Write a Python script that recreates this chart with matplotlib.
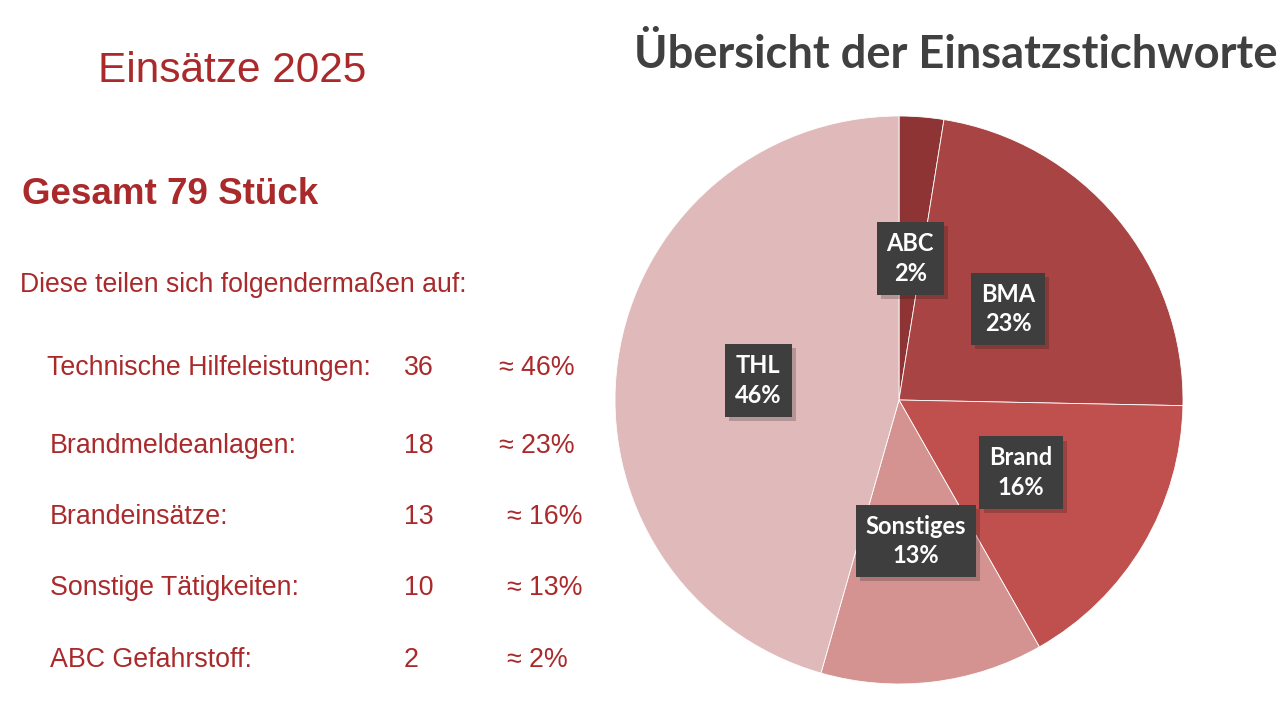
import matplotlib.pyplot as plt
import matplotlib.patheffects as pe

# Daten
kategorien = ["Technische Hilfeleistungen:", "Brandmeldeanlagen:", "Brandeinsätze:",
              "Sonstige Tätigkeiten:", "ABC Gefahrstoff:"]
anzahl_liste = [36, 18, 13, 10, 2]
prozent_liste = ["≈ 46%", "≈ 23%", "≈ 16%", "≈ 13%", "≈ 2%"]

# Kreisdiagramm (im Uhrzeigersinn ab 12 Uhr)
pie_labels = ["ABC", "BMA", "Brand", "Sonstiges", "THL"]
pie_werte = [2, 18, 13, 10, 36]
pie_prozent = [2, 23, 16, 13, 46]
pie_farben = ["#8e3434", "#a84443", "#c0504d", "#d49391", "#e0baba"]

rot = "#aa2a2c"

fig = plt.figure(figsize=(12.8, 7.2), dpi=100)
fig.patch.set_facecolor("white")

# linke Textseite
fig.text(98 / 1280, 1 - 71 / 720, "Einsätze 2025", fontsize=30.5, color=rot,
         family="Liberation Sans", va="center", ha="left")
fig.text(22 / 1280, 1 - 195 / 720, "Gesamt 79 Stück", fontsize=26.5, color=rot,
         family="Liberation Sans", weight="bold", va="center", ha="left")
fig.text(20 / 1280, 1 - 285 / 720, "Diese teilen sich folgendermaßen auf:", fontsize=19.2,
         color=rot, family="Liberation Sans", va="center", ha="left")

zeilen_y = [368, 446, 517, 588, 660]
label_x = [47, 50, 50, 50, 50]
pct_x = [499, 499, 507, 507, 507]
for i in range(len(kategorien)):
    y = 1 - zeilen_y[i] / 720
    fig.text(label_x[i] / 1280, y, kategorien[i], fontsize=19.3, color=rot,
             family="Liberation Sans", va="center", ha="left")
    fig.text(404 / 1280, y, str(anzahl_liste[i]), fontsize=19.3, color=rot,
             family="Liberation Sans", va="center", ha="left")
    fig.text(pct_x[i] / 1280, y, prozent_liste[i], fontsize=19.3, color=rot,
             family="Liberation Sans", va="center", ha="left")

# Titel rechts
fig.text(956 / 1280, 1 - 55 / 720, "Übersicht der Einsatzstichworte", fontsize=32.6,
         color="#404040", family="Lato", weight="bold", va="center", ha="center")

ax = fig.add_axes([615 / 1280, 36 / 720, 568 / 1280, 568 / 720])
texte = [f"{l}\n{p}%" for l, p in zip(pie_labels, pie_prozent)]
wedges, labels = ax.pie(pie_werte, colors=pie_farben, startangle=90, counterclock=False,
                        labels=texte, labeldistance=0.5,
                        wedgeprops=dict(linewidth=0.6, edgecolor="white"),
                        textprops=dict(ha="center", va="center", color="white",
                                       fontsize=17, weight="bold", family="Lato",
                                       linespacing=1.35))
for t in labels:
    t.set_bbox(dict(boxstyle="square,pad=0.42", facecolor="#3e3e3e", edgecolor="none"))
    t.get_bbox_patch().set_path_effects([pe.SimplePatchShadow(offset=(3, -3), alpha=0.22),
                                         pe.Normal()])
ax.set_xlim(-1, 1)
ax.set_ylim(-1, 1)
ax.axis("off")

fig.savefig("out.png", dpi=100)
